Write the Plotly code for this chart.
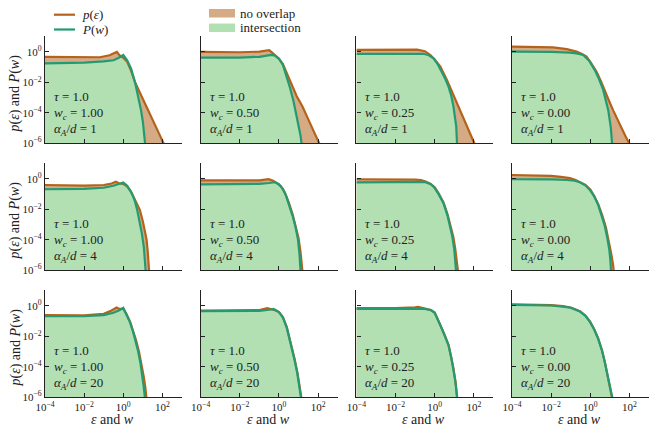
import numpy as np
import plotly.graph_objects as go

# Values are log10 of x and y.
# Rows: alpha_A/d = 1, 4, 20.  Columns: w_c = 1.00, 0.50, 0.25, 0.00
tau_label = "1.0"
wc_labels = ["1.00", "0.50", "0.25", "0.00"]
alpha_labels = ["1", "4", "20"]

x_ticks = [1e-4, 1e-2, 1, 1e2]
x_ticktext = ["10<sup>−4</sup>", "10<sup>−2</sup>", "10<sup>0</sup>", "10<sup>2</sup>"]
y_ticks = [1e-6, 1e-4, 1e-2, 1]
y_ticktext = ["10<sup>−6</sup>", "10<sup>−4</sup>", "10<sup>−2</sup>", "10<sup>0</sup>"]

# ---- alpha_A/d = 1 ----
p_a1_w100_x = [-4, -3, -2, -1.2, -0.7, -0.45, -0.33, -0.2, 0.0, 0.2, 0.4, 0.6, 0.9, 1.2, 1.5, 1.8, 2.05, 2.2]
p_a1_w100_y = [-0.33, -0.35, -0.38, -0.35, -0.22, -0.08, 0.0, -0.22, -0.38, -0.65, -1.25, -2.0, -2.8, -3.6, -4.4, -5.3, -6.0, -6.5]
P_a1_w100_x = [-4, -3, -2, -1, -0.5, -0.25, 0.0, 0.2, 0.4, 0.6, 0.75, 0.9, 1.0, 1.08, 1.12, 1.15]
P_a1_w100_y = [-0.75, -0.74, -0.7, -0.62, -0.55, -0.4, -0.2, -0.55, -1.1, -2.0, -2.8, -3.8, -4.6, -5.5, -6.0, -6.5]

p_a1_w050_x = [-4, -3, -2, -1, -0.7, -0.5, -0.35, -0.2, 0.0, 0.2, 0.4, 0.6, 0.9, 1.2, 1.5, 1.8, 2.05, 2.2]
p_a1_w050_y = [0.0, -0.01, -0.02, 0.02, 0.07, 0.12, -0.05, -0.2, -0.45, -0.8, -1.4, -2.1, -2.9, -3.6, -4.4, -5.3, -6.0, -6.5]
P_a1_w050_x = [-4, -3, -2, -1, -0.6, -0.4, -0.2, 0.0, 0.2, 0.4, 0.55, 0.75, 0.95, 1.1, 1.15, 1.2]
P_a1_w050_y = [-0.38, -0.38, -0.37, -0.32, -0.25, -0.2, -0.25, -0.45, -0.85, -1.6, -2.3, -3.3, -4.5, -5.5, -6.0, -6.5]

p_a1_w025_x = [-4, -3, -2, -1.2, -0.9, -0.5, -0.22, 0.0, 0.29, 0.63, 0.9, 1.14, 1.4, 1.65, 1.85, 2.02, 2.15]
p_a1_w025_y = [0.13, 0.13, 0.13, 0.15, 0.15, 0.05, -0.2, -0.5, -0.97, -1.87, -2.65, -3.4, -4.1, -4.85, -5.45, -6.0, -6.4]
P_a1_w025_x = [-4, -3, -2, -1, -0.57, -0.3, -0.06, 0.15, 0.37, 0.55, 0.71, 0.85, 0.96, 1.05, 1.1, 1.14, 1.17]
P_a1_w025_y = [-0.13, -0.13, -0.12, -0.11, -0.12, -0.22, -0.42, -0.8, -1.3, -1.8, -2.3, -2.9, -3.6, -4.3, -4.9, -6.0, -6.5]

p_a1_w000_x = [-4, -3, -1.9, -1.2, -0.7, -0.45, -0.19, 0.05, 0.32, 0.55, 0.74, 0.95, 1.17, 1.4, 1.6, 1.8, 1.98, 2.1]
p_a1_w000_y = [0.35, 0.34, 0.3, 0.18, 0.02, -0.12, -0.31, -0.75, -1.3, -1.95, -2.6, -3.2, -3.85, -4.5, -5.05, -5.55, -6.0, -6.35]
P_a1_w000_x = [-4, -3, -2, -1.04, -0.7, -0.36, -0.05, 0.23, 0.45, 0.66, 0.8, 0.92, 1.05, 1.09, 1.12, 1.14]
P_a1_w000_y = [0.02, 0.02, 0.0, -0.05, -0.1, -0.2, -0.6, -1.2, -1.8, -2.5, -3.15, -3.85, -5.0, -5.5, -6.0, -6.5]

# ---- alpha_A/d = 4 ----
p_a4_w100_x = [-4, -3, -2, -1, -0.6, -0.38, -0.2, 0.0, 0.2, 0.4, 0.6, 0.75, 0.85, 1.0, 1.1, 1.19, 1.25, 1.3, 1.33, 1.35]
p_a4_w100_y = [-0.4, -0.42, -0.44, -0.4, -0.3, -0.18, -0.3, -0.33, -0.5, -0.85, -1.35, -1.7, -2.05, -2.8, -3.4, -4.0, -4.8, -5.6, -6.2, -6.6]
P_a4_w100_x = [-4, -3, -2, -1, -0.5, -0.2, 0.0, 0.2, 0.35, 0.5, 0.6, 0.72, 0.85, 0.95, 1.05, 1.12, 1.15, 1.17]
P_a4_w100_y = [-0.68, -0.67, -0.66, -0.58, -0.45, -0.32, -0.24, -0.45, -0.75, -1.15, -1.5, -2.1, -2.9, -3.6, -4.5, -5.5, -6.0, -6.5]

p_a4_w050_x = [-4, -3, -2, -1, -0.53, -0.3, -0.1, 0.1, 0.3, 0.5, 0.7, 0.85, 1.0, 1.1, 1.17, 1.21, 1.24]
p_a4_w050_y = [-0.1, -0.11, -0.12, -0.1, -0.02, -0.12, -0.28, -0.5, -0.9, -1.55, -2.35, -3.05, -3.9, -4.8, -5.6, -6.1, -6.6]
P_a4_w050_x = [-4, -3, -2, -1, -0.5, -0.22, 0.0, 0.2, 0.37, 0.55, 0.71, 0.85, 0.97, 1.05, 1.1, 1.12]
P_a4_w050_y = [-0.36, -0.36, -0.35, -0.32, -0.27, -0.22, -0.35, -0.65, -1.15, -1.8, -2.5, -3.2, -4.0, -5.0, -5.9, -6.5]

p_a4_w025_x = [-4, -3, -2, -1, -0.7, -0.5, -0.2, 0.0, 0.2, 0.45, 0.65, 0.8, 0.95, 1.05, 1.13, 1.2, 1.23]
p_a4_w025_y = [-0.02, -0.02, -0.03, -0.04, -0.08, -0.15, -0.33, -0.55, -0.95, -1.55, -2.3, -3.0, -3.8, -4.6, -5.3, -6.0, -6.5]
P_a4_w025_x = [-4, -3, -2, -1, -0.5, -0.2, 0.0, 0.2, 0.45, 0.65, 0.79, 0.9, 1.0, 1.07, 1.1, 1.12]
P_a4_w025_y = [-0.22, -0.22, -0.21, -0.2, -0.2, -0.35, -0.6, -1.0, -1.6, -2.4, -3.1, -3.8, -4.65, -5.5, -6.0, -6.5]

p_a4_w000_x = [-4, -3, -2, -1.5, -1.04, -0.75, -0.53, -0.25, 0.0, 0.2, 0.4, 0.6, 0.8, 0.95, 1.08, 1.17, 1.21, 1.24]
p_a4_w000_y = [0.26, 0.24, 0.2, 0.14, 0.05, -0.07, -0.2, -0.4, -0.7, -1.12, -1.65, -2.35, -3.2, -4.1, -5.0, -5.7, -6.1, -6.6]
P_a4_w000_x = [-4, -3, -2, -1.2, -0.8, -0.53, -0.25, -0.02, 0.2, 0.4, 0.6, 0.74, 0.87, 0.97, 1.03, 1.06, 1.08]
P_a4_w000_y = [-0.02, -0.02, -0.03, -0.07, -0.12, -0.22, -0.42, -0.72, -1.15, -1.7, -2.45, -3.1, -3.9, -4.65, -5.4, -6.0, -6.5]

# ---- alpha_A/d = 20 ----
p_a20_w100_x = [-4, -3, -2, -1, -0.6, -0.34, -0.2, 0.0, 0.17, 0.35, 0.5, 0.65, 0.8, 0.95, 1.05, 1.13, 1.19, 1.22]
p_a20_w100_y = [-0.6, -0.61, -0.62, -0.52, -0.3, -0.1, -0.2, -0.2, -0.55, -1.05, -1.6, -2.25, -3.0, -3.9, -4.7, -5.4, -6.0, -6.5]
P_a20_w100_x = [-4, -3, -2, -1, -0.5, -0.2, 0.0, 0.17, 0.35, 0.5, 0.65, 0.76, 0.88, 0.98, 1.05, 1.1, 1.12]
P_a20_w100_y = [-0.67, -0.67, -0.67, -0.6, -0.45, -0.28, -0.13, -0.6, -1.1, -1.7, -2.4, -3.0, -3.8, -4.6, -5.4, -6.0, -6.5]

p_a20_w050_x = [-4, -3, -2, -1, -0.6, -0.4, -0.2, 0.0, 0.2, 0.4, 0.6, 0.8, 0.95, 1.07, 1.16, 1.2]
p_a20_w050_y = [-0.3, -0.3, -0.3, -0.27, -0.15, -0.2, -0.28, -0.4, -0.75, -1.4, -2.4, -3.5, -4.45, -5.3, -6.0, -6.5]
P_a20_w050_x = [-4, -3, -2, -1, -0.5, -0.27, 0.0, 0.2, 0.4, 0.6, 0.8, 0.93, 1.05, 1.15, 1.18]
P_a20_w050_y = [-0.35, -0.35, -0.35, -0.32, -0.25, -0.2, -0.4, -0.75, -1.45, -2.45, -3.6, -4.4, -5.3, -6.0, -6.5]

p_a20_w025_x = [-4, -3, -2, -1, -0.85, -0.6, -0.2, 0.0, 0.29, 0.5, 0.71, 0.85, 0.96, 1.06, 1.16, 1.19]
p_a20_w025_y = [-0.15, -0.15, -0.15, -0.1, -0.06, -0.14, -0.27, -0.43, -1.25, -1.88, -2.58, -3.38, -4.12, -4.95, -6.0, -6.5]
P_a20_w025_x = [-4, -3, -2, -1, -0.6, -0.2, 0.0, 0.29, 0.5, 0.71, 0.85, 0.96, 1.06, 1.14, 1.17]
P_a20_w025_y = [-0.2, -0.2, -0.2, -0.18, -0.18, -0.27, -0.45, -1.27, -1.9, -2.6, -3.4, -4.15, -5.0, -6.0, -6.5]

p_a20_w000_x = [-4, -3, -2, -1.4, -1.0, -0.53, -0.25, -0.02, 0.2, 0.4, 0.6, 0.74, 0.88, 1.0, 1.1, 1.15, 1.18]
p_a20_w000_y = [0.1, 0.09, 0.06, -0.01, -0.1, -0.35, -0.63, -1.02, -1.53, -2.13, -2.93, -3.68, -4.48, -5.2, -5.8, -6.0, -6.5]
P_a20_w000_x = [-4, -3, -2, -1.4, -1.0, -0.53, -0.25, -0.02, 0.2, 0.4, 0.6, 0.74, 0.88, 1.0, 1.08, 1.12, 1.15]
P_a20_w000_y = [0.07, 0.06, 0.03, -0.04, -0.12, -0.37, -0.65, -1.04, -1.55, -2.15, -2.95, -3.7, -4.5, -5.25, -5.8, -6.0, -6.5]

panels = [
    [(p_a1_w100_x, p_a1_w100_y, P_a1_w100_x, P_a1_w100_y),
     (p_a1_w050_x, p_a1_w050_y, P_a1_w050_x, P_a1_w050_y),
     (p_a1_w025_x, p_a1_w025_y, P_a1_w025_x, P_a1_w025_y),
     (p_a1_w000_x, p_a1_w000_y, P_a1_w000_x, P_a1_w000_y)],
    [(p_a4_w100_x, p_a4_w100_y, P_a4_w100_x, P_a4_w100_y),
     (p_a4_w050_x, p_a4_w050_y, P_a4_w050_x, P_a4_w050_y),
     (p_a4_w025_x, p_a4_w025_y, P_a4_w025_x, P_a4_w025_y),
     (p_a4_w000_x, p_a4_w000_y, P_a4_w000_x, P_a4_w000_y)],
    [(p_a20_w100_x, p_a20_w100_y, P_a20_w100_x, P_a20_w100_y),
     (p_a20_w050_x, p_a20_w050_y, P_a20_w050_x, P_a20_w050_y),
     (p_a20_w025_x, p_a20_w025_y, P_a20_w025_x, P_a20_w025_y),
     (p_a20_w000_x, p_a20_w000_y, P_a20_w000_x, P_a20_w000_y)],
]

BROWN = "#b4631d"
TAN = "#d4ab85"
GREEN = "#229b73"
LIGHT_GREEN = "#b2e0b2"
FONT = "Liberation Serif"

W, H = 655, 432
col_left = [45, 200.7, 356.4, 512]
col_w = 137
row_top = [36, 163, 290]
row_h = 107


def px_x(v):
    return v / W


def px_y(v):
    return 1 - v / H


fig = go.Figure()
annotations = []
floor = -9.0

for r in range(3):
    for c in range(4):
        n = r * 4 + c + 1
        xa = "x" if n == 1 else f"x{n}"
        ya = "y" if n == 1 else f"y{n}"
        px_, py_, Px_, Py_ = panels[r][c]

        # union / intersection outlines (log space)
        grid = np.union1d(px_, Px_)
        yp = np.interp(grid, px_, py_)
        yP = np.interp(grid, Px_, Py_)
        hi = np.maximum(yp, yP)
        lo = np.minimum(yp, yP)
        gx = 10 ** np.concatenate([[grid[0]], grid, [grid[-1]]])
        fig.add_trace(go.Scatter(
            x=gx, y=10 ** np.concatenate([[floor], hi, [floor]]),
            mode="lines", fill="toself", fillcolor=TAN, line=dict(width=0),
            xaxis=xa, yaxis=ya, showlegend=False, hoverinfo="skip"))
        fig.add_trace(go.Scatter(
            x=gx, y=10 ** np.concatenate([[floor], lo, [floor]]),
            mode="lines", fill="toself", fillcolor=LIGHT_GREEN, line=dict(width=0),
            xaxis=xa, yaxis=ya, showlegend=False, hoverinfo="skip"))
        fig.add_trace(go.Scatter(
            x=10 ** np.array(px_), y=10 ** np.array(py_), mode="lines",
            line=dict(color=BROWN, width=2.2), xaxis=xa, yaxis=ya, showlegend=False))
        fig.add_trace(go.Scatter(
            x=10 ** np.array(Px_), y=10 ** np.array(Py_), mode="lines",
            line=dict(color=GREEN, width=2.2), xaxis=xa, yaxis=ya, showlegend=False))

        x0 = col_left[c]
        y0 = row_top[r]
        fig.layout[f"xaxis{n}"] = dict(
            domain=[px_x(x0), px_x(x0 + col_w)], anchor=ya, type="log", range=[-4, 3],
            tickvals=x_ticks, ticktext=x_ticktext, showticklabels=(r == 2),
            ticks="inside", ticklen=4, tickcolor="#222", showline=True,
            linecolor="#222", linewidth=1.3, showgrid=False, zeroline=False,
            automargin=False, tickfont=dict(family=FONT, size=11, color="#222"))
        fig.layout[f"yaxis{n}"] = dict(
            domain=[px_y(y0 + row_h), px_y(y0)], anchor=xa, type="log", range=[-6, 1.05],
            tickvals=y_ticks, ticktext=y_ticktext, showticklabels=(c == 0),
            ticks="inside", ticklen=4, tickcolor="#222", showline=True,
            linecolor="#222", linewidth=1.3, showgrid=False, zeroline=False,
            automargin=False, tickfont=dict(family=FONT, size=11, color="#222"))

        labels = [f"<i>τ</i> = {tau_label}",
                  f"<i>w</i><sub><i>c</i></sub> = {wc_labels[c]}",
                  f"<i>α</i><sub><i>A</i></sub>/<i>d</i> = {alpha_labels[r]}"]
        for txt, yy in zip(labels, [0.43, 0.28, 0.13]):
            annotations.append(dict(
                xref=f"{xa} domain", yref=f"{ya} domain", x=0.05, y=yy,
                text=txt, showarrow=False, xanchor="left", yanchor="middle",
                font=dict(family=FONT, size=13, color="#222")))

# axis titles
for r in range(3):
    annotations.append(dict(
        xref="paper", yref="paper", x=px_x(15), y=px_y(row_top[r] + row_h / 2 + 4),
        text="<i>p</i>(<i>ε</i>) and <i>P</i>(<i>w</i>)", textangle=-90, showarrow=False,
        xanchor="center", yanchor="middle", font=dict(family=FONT, size=14, color="#222")))
for c in range(4):
    annotations.append(dict(
        xref="paper", yref="paper", x=px_x(col_left[c] + col_w / 2 - 1), y=px_y(419),
        text="<i>ε</i> and <i>w</i>", showarrow=False,
        xanchor="center", yanchor="middle", font=dict(family=FONT, size=14, color="#222")))

# legends
shapes = []
for yy, col, txt in [(14.7, BROWN, "<i>p</i>(<i>ε</i>)"), (29.5, GREEN, "<i>P</i>(<i>w</i>)")]:
    shapes.append(dict(type="line", xref="paper", yref="paper",
                       x0=px_x(54), x1=px_x(75), y0=px_y(yy), y1=px_y(yy),
                       line=dict(color=col, width=2.2)))
    annotations.append(dict(xref="paper", yref="paper", x=px_x(80), y=px_y(yy),
                            text=txt, showarrow=False, xanchor="left", yanchor="middle",
                            font=dict(family=FONT, size=13, color="#222")))
for y_top, col, txt in [(9, TAN, "no overlap"), (23.5, LIGHT_GREEN, "intersection")]:
    shapes.append(dict(type="rect", xref="paper", yref="paper",
                       x0=px_x(209), x1=px_x(235), y0=px_y(y_top + 8.5), y1=px_y(y_top),
                       fillcolor=col, line=dict(width=0)))
    annotations.append(dict(xref="paper", yref="paper", x=px_x(238), y=px_y(y_top + 4.5),
                            text=txt, showarrow=False, xanchor="left", yanchor="middle",
                            font=dict(family=FONT, size=13, color="#222")))

fig.update_layout(
    width=W, height=H,
    margin=dict(l=0, r=0, t=0, b=0, autoexpand=False),
    paper_bgcolor="white", plot_bgcolor="white",
    showlegend=False,
    annotations=annotations,
    shapes=shapes,
)

fig.write_html(
    "out.html",
    config={"displayModeBar": False},
    post_script="document.body.style.margin='0';document.body.style.overflow='hidden';",
)
